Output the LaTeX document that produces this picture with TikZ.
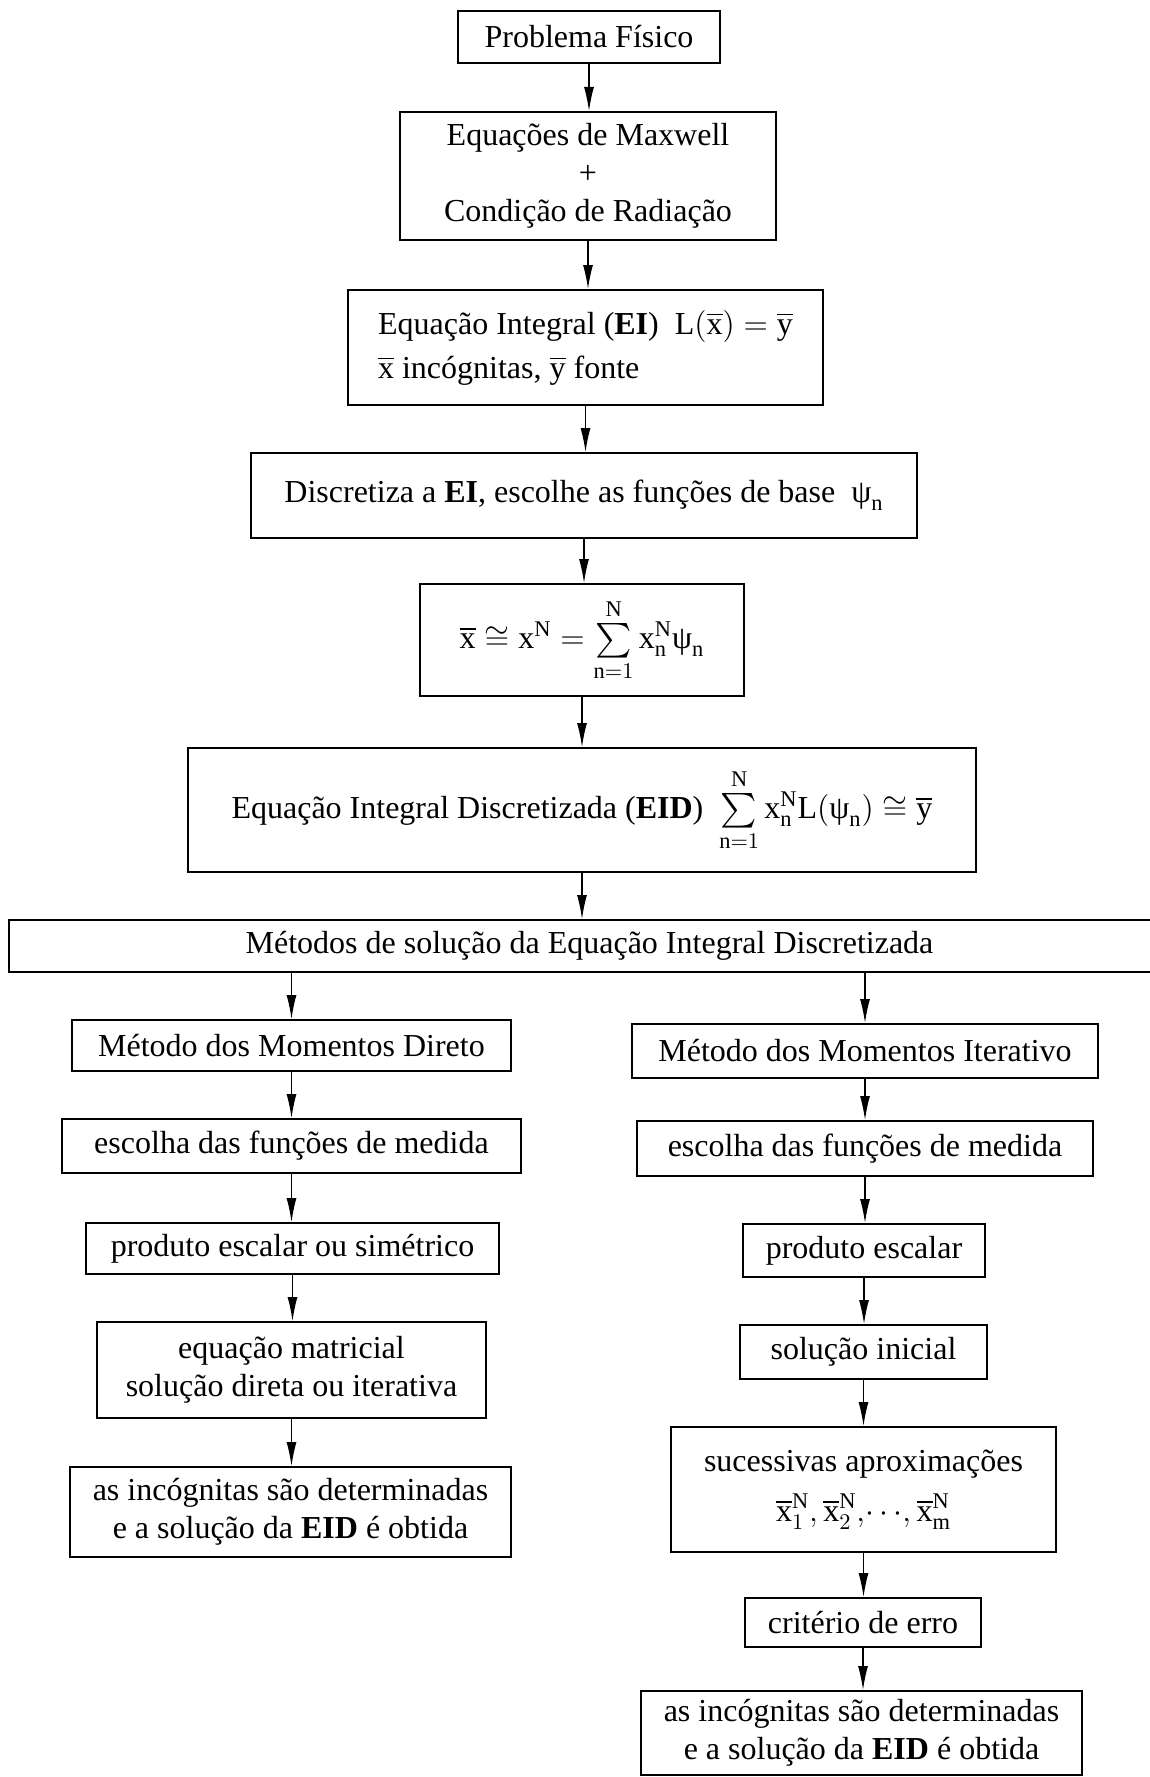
\RequirePackage{fix-cm}
\documentclass[tikz,border=0pt]{standalone}
\usepackage{amsmath}
\usepackage{fontspec}
\setmainfont{Liberation Serif}
\usetikzlibrary{arrows.meta}

\newcommand{\vx}{\overline{\mathrm{x}}}
\newcommand{\vy}{\overline{\mathrm{y}}}
\newcommand{\up}[1]{\mathrm{#1}}
\newcommand{\psin}{\text{ψ}_{\mathrm{n}}}

\tikzset{
    bloco/.style={draw,line width=1pt,inner sep=1pt,align=center,
        font=\fontsize{16}{19}\selectfont},
    sz/.style 2 args={minimum width={#1*0.5pt},minimum height={#2*0.5pt}},
    seta/.style={line width=0.6pt,-{Latex[length=12pt,width=5pt]}}
}

\begin{document}
\begin{tikzpicture}[x=0.5pt,y=-0.5pt]
                \useasboundingbox (0,0) rectangle (1150,1777);
                % coluna central
                \node[bloco,sz={262}{52}] (prob) at (589,37) {Problema Físico};
                \node[bloco,sz={376}{128}] (maxw) at (588,176) {Equações de Maxwell\\+\\Condição de Radiação};
                \node[bloco,sz={475}{115},align=left] (ei) at (585.5,347.5)
                    {Equação Integral (\textbf{EI}) \ $\up{L}(\vx)=\vy$\\[3pt]$\vx$ incógnitas, $\vy$ fonte};
                \node[bloco,sz={666}{85}] (disc) at (584,495.5) {Discretiza a \textbf{EI}, escolhe as funções de base \ $\psin$};
                \node[bloco,sz={324}{112}] (apx) at (582,640)
                    {$\vx\cong\up{x}^{\up{N}}=\sum\limits_{\up{n}=1}^{\up{N}}\up{x}_{\up{n}}^{\up{N}}\psin$};
                \node[bloco,sz={788}{124}] (eid) at (582,810)
                    {Equação Integral Discretizada (\textbf{EID}) \ $\sum\limits_{\up{n}=1}^{\up{N}}\up{x}_{\up{n}}^{\up{N}}\up{L}(\psin)\cong\vy$};
                \node[bloco,sz={1161}{52}] (met) at (589.5,946) {Métodos de solução da Equação Integral Discretizada};
                % coluna esquerda
                \node[bloco,sz={439}{51}] (md1) at (291.5,1045.5) {Método dos Momentos Direto};
                \node[bloco,sz={459}{54}] (md2) at (291.5,1146) {escolha das funções de medida};
                \node[bloco,sz={413}{51}] (md3) at (292.5,1248.5) {produto escalar ou simétrico};
                \node[bloco,sz={389}{96}] (md4) at (291.5,1370) {equação matricial\\solução direta ou iterativa};
                \node[bloco,sz={441}{90}] (md5) at (290.5,1512) {as incógnitas são determinadas\\e a solução da \textbf{EID} é obtida};
                % coluna direita
                \node[bloco,sz={466}{54}] (mi1) at (865,1051) {Método dos Momentos Iterativo};
                \node[bloco,sz={456}{55}] (mi2) at (865,1148.5) {escolha das funções de medida};
                \node[bloco,sz={242}{53}] (mi3) at (864,1250.5) {produto escalar};
                \node[bloco,sz={247}{54}] (mi4) at (863.5,1352) {solução inicial};
                \node[bloco,sz={385}{125}] (mi5) at (863.5,1489.5)
                    {sucessivas aproximações\\[6pt]$\vx_1^{\up{N}},\vx_2^{\up{N}},\!\cdots\!,\vx_{\up{m}}^{\up{N}}$};
                \node[bloco,sz={236}{49}] (mi6) at (863,1622.5) {critério de erro};
                \node[bloco,sz={441}{84}] (mi7) at (861.5,1733) {as incógnitas são determinadas\\e a solução da \textbf{EID} é obtida};
                % setas
                \foreach \a/\b in {prob/maxw,maxw/ei,ei/disc,disc/apx,apx/eid,eid/met,
                                   md1/md2,md2/md3,md3/md4,md4/md5,
                                   mi1/mi2,mi2/mi3,mi3/mi4,mi4/mi5,mi5/mi6,mi6/mi7}{
                    \draw[seta] (\a.south) -- (\a.south |- \b.north);
                }
                \draw[seta] (met.south -| md1.north) -- (md1.north);
                \draw[seta] (met.south -| mi1.north) -- (mi1.north);
            \end{tikzpicture}
\end{document}
